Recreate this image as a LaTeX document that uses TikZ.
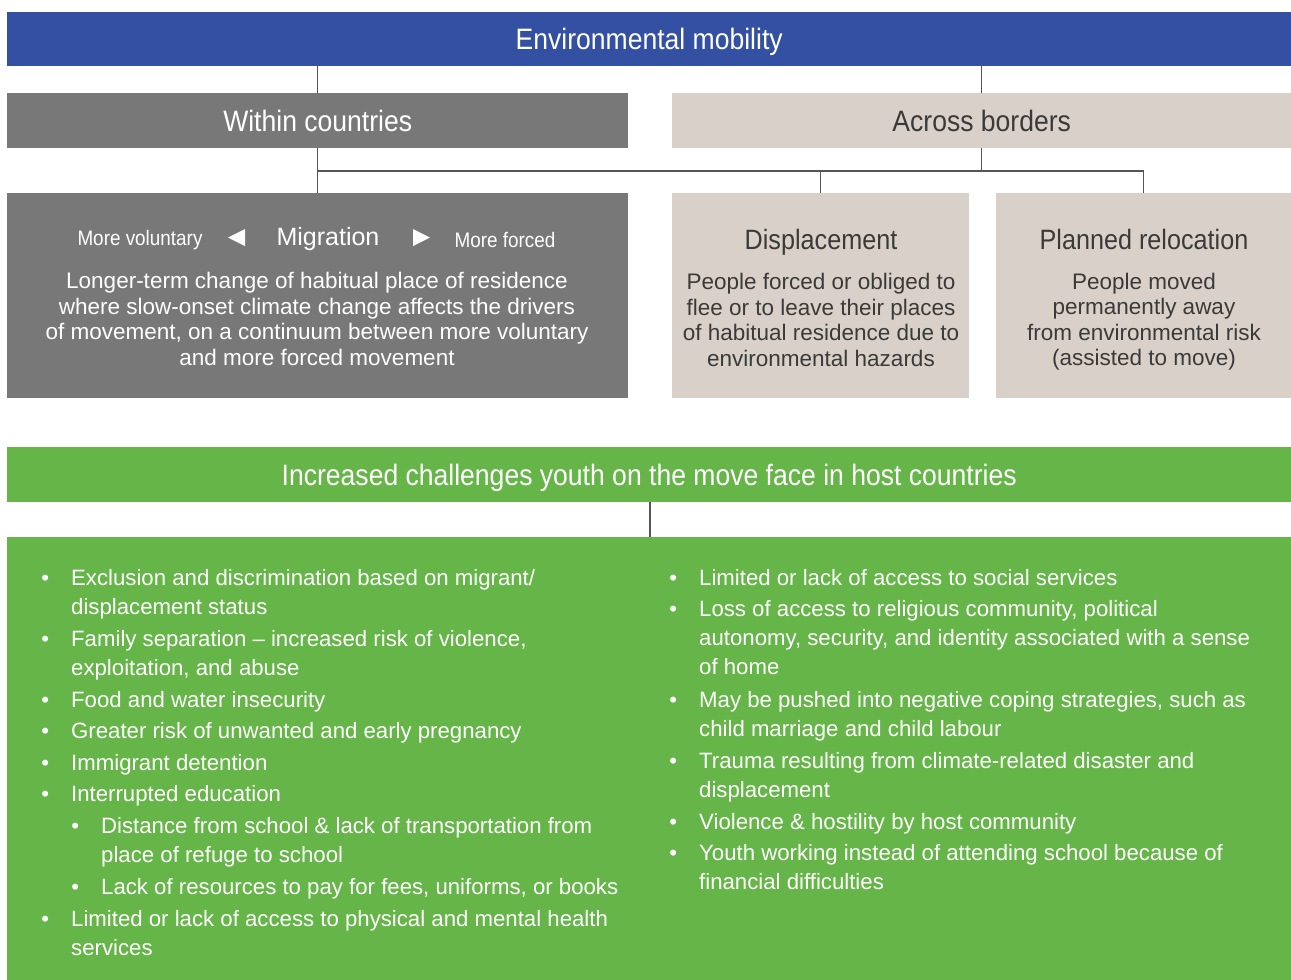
\documentclass[tikz,border=0pt]{standalone}
\usepackage{fontspec}
\setmainfont{Liberation Sans}
\newfontfamily\condf[FakeStretch=0.9]{Liberation Sans}
\definecolor{envblue}{HTML}{3350A3}
\definecolor{boxgray}{HTML}{787878}
\definecolor{beige}{HTML}{D9D1C9}
\definecolor{boxgreen}{HTML}{66B548}
\definecolor{linegray}{HTML}{555555}
\definecolor{darktext}{HTML}{3A3A3A}
\newcommand\bul{\llap{\textbullet\hspace{22pt}}}
\begin{document}
\begin{tikzpicture}[x=1pt,y=-1pt,
  panel/.style={rectangle, inner sep=0pt, anchor=north west},
  headtext/.style={font=\condf\fontsize{29.5}{34}\selectfont, text height=21pt, text depth=0pt},
  subtitle/.style={font=\condf\fontsize{28}{32}\selectfont, inner sep=0pt, text height=20pt, text depth=0pt},
  desc/.style={font=\fontsize{22.5}{25.5}\selectfont, align=center, inner sep=0pt},
  item/.style={font=\fontsize{22.2}{29.3}\selectfont, align=left, anchor=base west, inner sep=0pt, text=white},
  conn/.style={draw=linegray, line width=1.2pt}]
\useasboundingbox (0,0) rectangle (1291,980);
% panels
\node[panel, fill=envblue, minimum width=1284pt, minimum height=54pt, text=white, headtext] (env) at (7,12) {Environmental mobility};
\node[panel, fill=boxgray, minimum width=621pt, minimum height=55pt, text=white, headtext] (within) at (7,93) {Within countries};
\node[panel, fill=beige, minimum width=619pt, minimum height=55pt, text=darktext, headtext] (across) at (672,93) {Across borders};
\node[panel, fill=boxgray, minimum width=621pt, minimum height=205pt] (migr) at (7,193) {};
\node[panel, fill=beige, minimum width=297pt, minimum height=205pt] (disp) at (672,193) {};
\node[panel, fill=beige, minimum width=295pt, minimum height=205pt] (plan) at (996,193) {};
\node[panel, fill=boxgreen, minimum width=1284pt, minimum height=55pt, text=white, headtext] (chal) at (7,447) {Increased challenges youth on the move face in host countries};
\node[panel, fill=boxgreen, minimum width=1284pt, minimum height=443pt] (list) at (7,537) {};
% connectors
\coordinate (hbar) at (0,171);
\draw[conn] (env.south -| within.north) -- (within.north);
\draw[conn] (env.south -| across.north) -- (across.north);
\draw[conn] (within.south) -- (within.south |- migr.north);
\draw[conn] (across.south) -- (across.south |- hbar);
\draw[conn] (hbar -| within.south) -- (hbar -| plan.north) -- (plan.north);
\draw[conn] (hbar -| disp.north) -- (disp.north);
\draw[conn] (chal.south -| 650,0) -- (list.north -| 650,0);
% migration box
\node[text=white, font=\condf\fontsize{21}{24}\selectfont, inner sep=0pt] (vol) at (140,240) {More voluntary};
\node[text=white, font=\fontsize{25}{28}\selectfont, inner sep=0pt] (mig) at (328,239) {Migration};
\node[text=white, font=\condf\fontsize{21}{24}\selectfont, inner sep=0pt] (forc) at (505,240) {More forced};
\fill[white] (228,237.5) -- (245,229) -- (245,246) -- cycle;
\fill[white] (430,237.5) -- (413,229) -- (413,246) -- cycle;
\node[desc, text=white] (migdesc) at (317,319) {Longer-term change of habitual place of residence\\where slow-onset climate change affects the drivers\\of movement, on a continuum between more voluntary\\and more forced movement};
% displacement
\node[subtitle, text=darktext] (disptitle) at (821,239) {Displacement};
\node[desc, text=darktext] (dispdesc) at (821,320) {People forced or obliged to\\flee or to leave their places\\of habitual residence due to\\environmental hazards};
% planned relocation
\node[subtitle, text=darktext] (plantitle) at (1144,239) {Planned relocation};
\node[desc, text=darktext] (plandesc) at (1144,321.5) {People moved\\permanently away\\from environmental risk\\(assisted to move)};
% left list (anchor = baseline of last line)
\node[item] (l1) at (71,614.3) {\bul Exclusion and discrimination based on migrant/\\displacement status};
\node[item] (l2) at (71,675.3) {\bul Family separation – increased risk of violence,\\exploitation, and abuse};
\node[item] (l3) at (71,707) {\bul Food and water insecurity};
\node[item] (l4) at (71,738) {\bul Greater risk of unwanted and early pregnancy};
\node[item] (l5) at (71,770) {\bul Immigrant detention};
\node[item] (l6) at (71,801) {\bul Interrupted education};
\node[item] (l6a) at (101,862.3) {\bul Distance from school \& lack of transportation from\\place of refuge to school};
\node[item] (l6b) at (101,894) {\bul Lack of resources to pay for fees, uniforms, or books};
\node[item] (l7) at (71,955.3) {\bul Limited or lack of access to physical and mental health\\services};
% right list
\node[item] (r1) at (699,585) {\bul Limited or lack of access to social services};
\node[item] (r2) at (699,674.6) {\bul Loss of access to religious community, political\\autonomy, security, and identity associated with a sense\\of home};
\node[item] (r3) at (699,736.3) {\bul May be pushed into negative coping strategies, such as\\child marriage and child labour};
\node[item] (r4) at (699,797.3) {\bul Trauma resulting from climate-related disaster and\\displacement};
\node[item] (r5) at (699,829) {\bul Violence \& hostility by host community};
\node[item] (r6) at (699,889.3) {\bul Youth working instead of attending school because of\\financial difficulties};
\end{tikzpicture}
\end{document}
